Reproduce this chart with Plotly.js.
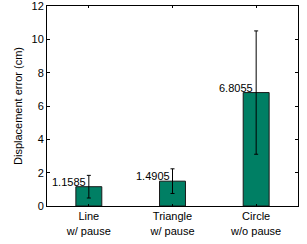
<!DOCTYPE html>
<html><head><meta charset="utf-8">
<script src="https://cdn.plot.ly/plotly-3.0.1.min.js"></script>
<style>html,body{margin:0;padding:0;background:#fff}#c{width:307px;height:244px}</style>
</head><body><div id="c"></div>
<script>
const categories = ["Line<br>w/ pause", "Triangle<br>w/ pause", "Circle<br>w/o pause"];
const means = [1.1585, 1.4905, 6.8055];
const errors = [0.68, 0.74, 3.7];
const labels = ["1.1585", "1.4905", "6.8055"];
const yTicks = [0, 2, 4, 6, 8, 10, 12];

const xPos = categories.map((_, i) => i + 1);
const font = {family: "Liberation Sans, Arial, sans-serif", size: 11, color: "#000"};

const data = [{
  type: "bar",
  x: xPos,
  y: means,
  width: 0.31,
  marker: {color: "#007f64", line: {color: "#1a1a1a", width: 1}},
  error_y: {type: "data", array: errors, visible: true, color: "#000", thickness: 1, width: 2},
  hoverinfo: "none"
}];

const annotations = xPos.map((x, i) => ({
  x: x, y: means[i], xref: "x", yref: "y",
  text: labels[i], showarrow: false,
  xanchor: "right", yanchor: "bottom", xshift: -1, yshift: -3,
  font: font
}));

const layout = {
  width: 307, height: 244,
  margin: {l: 47, r: 9, t: 6, b: 38},
  paper_bgcolor: "#fff", plot_bgcolor: "#fff",
  font: font,
  showlegend: false,
  xaxis: {
    range: [0.5, 3.5], tickvals: xPos, ticktext: categories,
    ticks: "inside", ticklen: 2, tickcolor: "#000",
    showline: true, linecolor: "#000", linewidth: 1, mirror: "ticks",
    showgrid: false, zeroline: false, tickfont: font
  },
  yaxis: {
    range: [0, 12], tickvals: yTicks, ticktext: yTicks.map(String),
    ticks: "inside", ticklen: 3, tickcolor: "#000",
    ticklabeloverflow: "allow",
    showline: true, linecolor: "#000", linewidth: 1, mirror: "ticks",
    showgrid: false, zeroline: false, tickfont: font,
    title: {text: "Displacement error (cm)", font: font, standoff: 6}
  },
  annotations: annotations
};

Plotly.newPlot("c", data, layout, {displayModeBar: false, staticPlot: true});
</script></body></html>
